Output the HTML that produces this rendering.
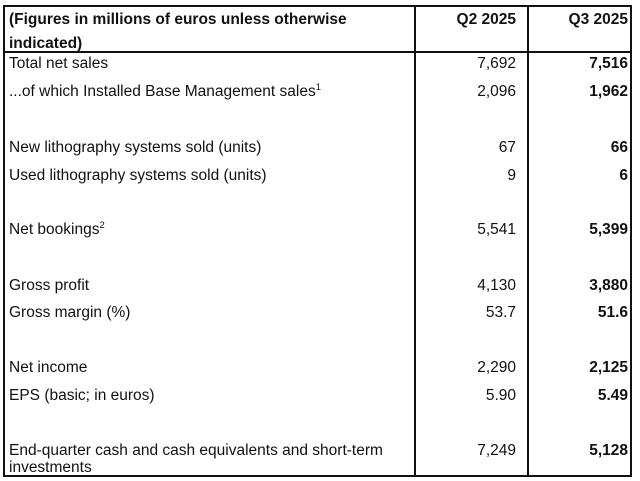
<!DOCTYPE html>
<html><head><style>
body{margin:0;width:640px;height:481px;background:#fff;font-family:"Liberation Sans",Arial,sans-serif;font-size:15.5px;color:#111;position:relative;overflow:hidden}
.t{position:absolute;white-space:nowrap;line-height:17px}
.l{left:9px}
.a{right:124px;text-align:right}
.b{right:12px;text-align:right;font-weight:bold}
.ln{position:absolute;background:#111}
sup{font-size:9.5px;vertical-align:6px;line-height:0}
</style></head><body>
<div class="ln" style="left:3px;top:5px;width:629px;height:2px"></div>
<div class="ln" style="left:3px;top:51px;width:629px;height:2px"></div>
<div class="ln" style="left:3px;top:475px;width:629px;height:2px"></div>
<div class="ln" style="left:3px;top:5px;width:2px;height:472px"></div>
<div class="ln" style="left:414px;top:5px;width:2px;height:472px"></div>
<div class="ln" style="left:527px;top:5px;width:2px;height:472px"></div>
<div class="ln" style="left:630px;top:5px;width:2px;height:472px"></div>

<div class="t l" style="top:11px;font-weight:bold">(Figures in millions of euros unless otherwise</div>
<div class="t l" style="top:35px;font-weight:bold">indicated)</div>
<div class="t a" style="top:11px;font-weight:bold">Q2 2025</div>
<div class="t b" style="top:11px">Q3 2025</div>

<div class="t l" style="top:55px">Total net sales</div><div class="t a" style="top:55px">7,692</div><div class="t b" style="top:55px">7,516</div>
<div class="t l" style="top:83px">...of which Installed Base Management sales<sup>1</sup></div><div class="t a" style="top:83px">2,096</div><div class="t b" style="top:83px">1,962</div>
<div class="t l" style="top:139px">New lithography systems sold (units)</div><div class="t a" style="top:139px">67</div><div class="t b" style="top:139px">66</div>
<div class="t l" style="top:167px">Used lithography systems sold (units)</div><div class="t a" style="top:167px">9</div><div class="t b" style="top:167px">6</div>
<div class="t l" style="top:221px">Net bookings<sup>2</sup></div><div class="t a" style="top:221px">5,541</div><div class="t b" style="top:221px">5,399</div>
<div class="t l" style="top:277px">Gross profit</div><div class="t a" style="top:277px">4,130</div><div class="t b" style="top:277px">3,880</div>
<div class="t l" style="top:304px">Gross margin (%)</div><div class="t a" style="top:304px">53.7</div><div class="t b" style="top:304px">51.6</div>
<div class="t l" style="top:359px">Net income</div><div class="t a" style="top:359px">2,290</div><div class="t b" style="top:359px">2,125</div>
<div class="t l" style="top:387px">EPS (basic; in euros)</div><div class="t a" style="top:387px">5.90</div><div class="t b" style="top:387px">5.49</div>
<div class="t l" style="top:442px">End-quarter cash and cash equivalents and short-term</div><div class="t a" style="top:442px">7,249</div><div class="t b" style="top:442px">5,128</div>
<div class="t l" style="top:459px">investments</div>
</body></html>
